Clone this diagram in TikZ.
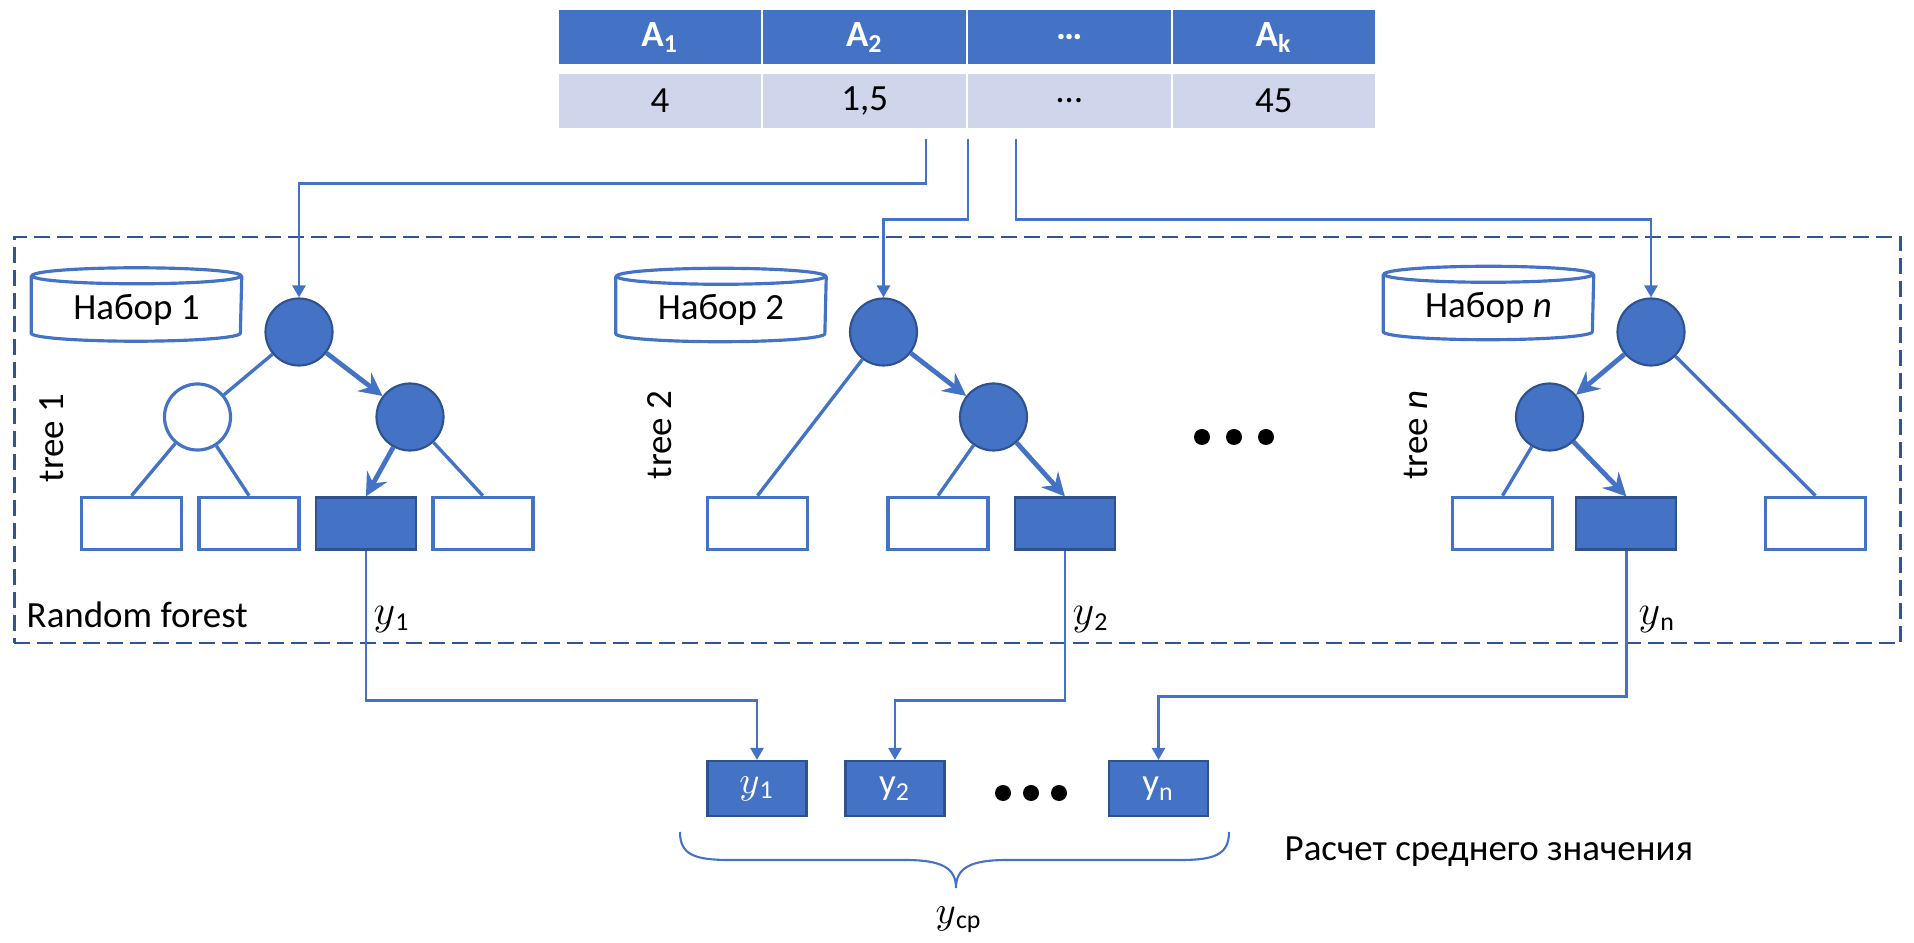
\documentclass[tikz,border=0pt]{standalone}
\usepackage{fontspec}
\setmainfont{Carlito}
\usetikzlibrary{arrows.meta,positioning,matrix}

\definecolor{office}{HTML}{4472C4}
\definecolor{officedk}{HTML}{2F528F}
\definecolor{framec}{HTML}{2F5597}
\definecolor{cellbg}{HTML}{CFD5EA}

\newcommand{\diagfont}{\fontsize{10.5}{12.5}\selectfont}
% italic y as in the formula editor
\newcommand{\yv}[1][12]{{\fontsize{#1}{#1}\selectfont$y$}}

% drum outline around a named data-set node
\newcommand{\drum}[1]{%
  \draw[drumline] ([yshift=-0.08cm]#1.north west) -- ([yshift=0.08cm]#1.south west)
    arc[start angle=180,end angle=360,x radius=1.045cm,y radius=0.08cm]
    -- ([yshift=-0.08cm]#1.north east);
  \draw[drumline] ([yshift=-0.08cm]#1.north) ellipse[x radius=1.045cm,y radius=0.08cm];}

\begin{document}
\begin{tikzpicture}[
    x=0.01cm, y=-0.01cm,
    font=\diagfont,
    nodeon/.style={circle,fill=office,draw=officedk,line width=0.6pt,minimum size=0.67cm,inner sep=0pt},
    nodeoff/.style={circle,fill=white,draw=office,line width=0.9pt,minimum size=0.66cm,inner sep=0pt},
    leaf/.style={draw=office,line width=1pt,minimum width=1.0cm,minimum height=0.52cm,inner sep=0pt},
    leafon/.style={leaf,fill=office,draw=officedk,line width=0.6pt},
    outbox/.style={fill=office,draw=officedk,line width=0.6pt,minimum width=0.99cm,
      minimum height=0.55cm,inner sep=0pt,text=white},
    drumbox/.style={minimum width=2.09cm,minimum height=0.72cm,inner sep=0pt,
      text height=3.5mm,text depth=0.6mm},
    drumline/.style={draw=office,line width=0.9pt},
    twig/.style={draw=office,line width=0.95pt},
    hot/.style={draw=office,line width=1.35pt,-{Stealth[length=2.3mm,width=2.3mm,inset=0.8mm]}},
    conn/.style={draw=office,line width=0.75pt,-{Triangle[length=1.2mm,width=1.3mm]}},
    wire/.style={draw=office,line width=0.6pt},
    forestframe/.style={draw=framec,line width=0.7pt,dash pattern=on 1.6mm off 0.7mm,
      minimum width=18.85cm,minimum height=4.06cm,inner sep=0pt},
    treelbl/.style={rotate=90,inner sep=0pt},
    tag/.style={anchor=base west,inner sep=0pt}
  ]
    \useasboundingbox (0,0) rectangle (1914,943);

    % Random forest frame
    \node[forestframe] (forest) at (957.5,440) {};
    \node[tag] (rf) at (26,628) {Random forest};

    % Top: feature table
    \matrix (tab) [matrix of nodes, column sep=-0.6pt, row sep=0.05cm,
      nodes={draw=white,line width=0.6pt,minimum width=2.045cm,minimum height=0.56cm,
        inner sep=0pt,anchor=center},
      row 1/.style={nodes={fill=office,text=white,font=\diagfont\bfseries}},
      row 2/.style={nodes={fill=cellbg}}] at (967,69) {
      A\textsubscript{1} & A\textsubscript{2} & … & A\textsubscript{k} \\
      4 & 1,5 & … & 45 \\
    };
    \coordinate (s1) at ([xshift=-0.42cm,yshift=-0.09cm]tab-2-2.south east);
    \coordinate (s2) at ([yshift=-0.09cm]tab-2-2.south east);
    \coordinate (s3) at ([xshift=0.48cm,yshift=-0.09cm]tab-2-2.south east);

    % Tree 1
    \node[drumbox] (set1) at (136.5,304.5) {Набор 1};
    \drum{set1}
    \node[treelbl] (lbl1) at (52,438) {tree 1};
    \node[nodeon] (t1r) at (299,332) {};
    \node[nodeoff] (t1a) at (197.5,417) {};
    \node[nodeon] (t1b) at (410,417) {};
    \node[leaf] (t1l1) at (131.5,523.5) {};
    \node[leaf] (t1l2) [right=0.14cm of t1l1] {};
    \node[leafon] (t1l3) [right=0.14cm of t1l2] {};
    \node[leaf] (t1l4) [right=0.14cm of t1l3] {};
    \draw[twig] (t1r) -- (t1a);
    \draw[twig] (t1a) -- (t1l1.north);
    \draw[twig] (t1a) -- (t1l2.north);
    \draw[twig] (t1b) -- (t1l4.north);
    \draw[hot] (t1r) -- (t1b);
    \draw[hot] (t1b) -- (t1l3.north);

    % Tree 2
    \node[drumbox] (set2) at (721,305) {Набор 2};
    \drum{set2}
    \node[treelbl] (lbl2) at (659.5,435) {tree 2};
    \node[nodeon] (t2r) at (883.5,332) {};
    \node[nodeon] (t2b) at (993.5,417) {};
    \node[leaf] (t2l1) at (757.5,523.5) {};
    \node[leaf] (t2l2) at (938,523.5) {};
    \node[leafon] (t2l3) [right=0.24cm of t2l2] {};
    \draw[twig] (t2r) -- (t2l1.north);
    \draw[twig] (t2b) -- (t2l2.north);
    \draw[hot] (t2r) -- (t2b);
    \draw[hot] (t2b) -- (t2l3.north);

    % gap between trees
    \foreach \dx in {1202,1234,1266} \fill (\dx,437) circle[radius=0.08cm];

    % Tree n
    \node[drumbox] (setn) at (1488.5,303) {Набор \textit{n}};
    \drum{setn}
    \node[treelbl] (lbln) at (1416,435) {tree \textit{n}};
    \node[nodeon] (t3r) at (1651,332) {};
    \node[nodeon] (t3a) at (1549.5,417) {};
    \node[leaf] (t3l1) at (1502.5,523.5) {};
    \node[leafon] (t3l2) [right=0.21cm of t3l1] {};
    \node[leaf] (t3l3) at (1815.5,523.5) {};
    \draw[twig] (t3r) -- (t3l3.north);
    \draw[twig] (t3a) -- (t3l1.north);
    \draw[hot] (t3r) -- (t3a);
    \draw[hot] (t3a) -- (t3l2.north);

    % feature rows into the roots
    \draw[conn] (s1) -- ++(0,45) -| (t1r.north);
    \draw[conn] (s2) -- ++(0,81) -| (t2r.north);
    \draw[conn] (s3) -- ++(0,81) -| (t3r.north);

    % Bottom: tree outputs
    \node[outbox] (o1) at (757,788.5) {\yv[10.5]\textsubscript{1}};
    \node[outbox] (o2) at (895,788.5) {y\textsubscript{2}};
    \node[outbox] (on) at (1158.5,788.5) {y\textsubscript{n}};
    \foreach \dx in {1003,1031,1059} \fill (\dx,793) circle[radius=0.08cm];

    \draw[conn] (t1l3.south) -- ++(0,150) -| (o1.north);
    \draw[conn] (t2l3.south) -- ++(0,150) -| (o2.north);
    \draw[conn] (t3l2.south) -- ++(0,146) -| (on.north);
    \node[tag] (y1) at (373,625) {\yv\textsubscript{1}};
    \node[tag] (y2) at (1072,625) {\yv\textsubscript{2}};
    \node[tag] (yn) at (1638,625) {\yv\textsubscript{n}};

    % averaging brace
    \draw[wire] (680,832) .. controls (680,855) and (695,860) .. (730,860) -- (905,860)
      .. controls (942,860) and (956,868) .. (956,888)
      .. controls (956,868) and (970,860) .. (1007,860) -- (1180,860)
      .. controls (1214,860) and (1229,855) .. (1229,832);
    \node[anchor=base] (ycp) at (959,923) {\yv[11]\textsubscript{ср}};
    \node[tag] (avg) at (1284,860) {Расчет среднего значения};
\end{tikzpicture}
\end{document}
